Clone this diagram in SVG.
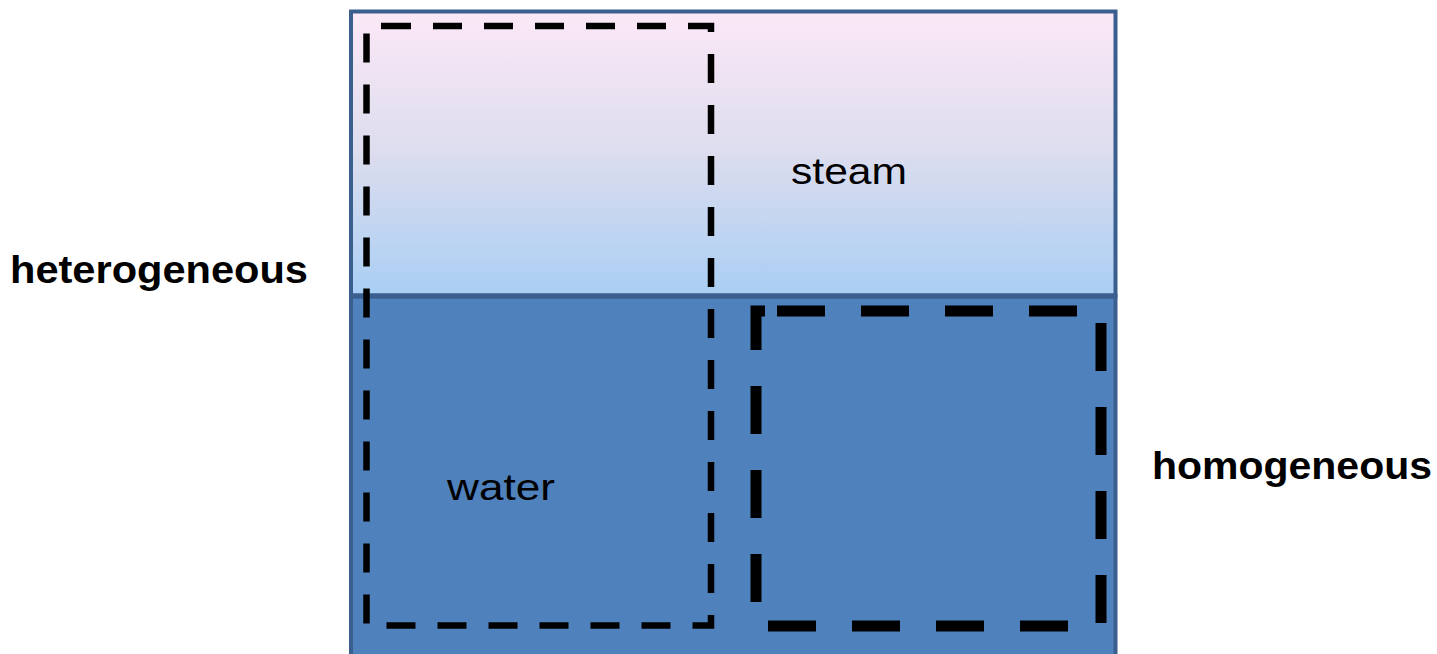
<svg xmlns="http://www.w3.org/2000/svg" width="1437" height="654" viewBox="0 0 1437 654">
<defs>
<linearGradient id="steamGrad" x1="0" y1="0" x2="0" y2="1">
<stop offset="0" stop-color="#FCE8F7"/>
<stop offset="0.5" stop-color="#DCDDEE"/>
<stop offset="1" stop-color="#A9CEF4"/>
</linearGradient>
</defs>
<style>
.box{stroke:#3A5F8E;stroke-width:4}
.lbl{font-family:"Liberation Sans",Arial,sans-serif;fill:#000}
.bold{font-weight:bold}
.dash1{fill:none;stroke:#000;stroke-width:6.5;stroke-dasharray:29 22}
.dash2{fill:none;stroke:#000;stroke-width:11;stroke-dasharray:48 36}
</style>
<g id="steam">
<rect x="351" y="11.5" width="764.5" height="284.5" fill="url(#steamGrad)" class="box"/>
<text class="lbl" x="791" y="184" font-size="37" textLength="116" lengthAdjust="spacingAndGlyphs">steam</text>
</g>
<g id="water">
<rect x="351" y="296" width="764.5" height="362" fill="#4F81BD" class="box"/>
<line x1="351" y1="296" x2="1115.5" y2="296" stroke="#3A5F8E" stroke-width="5.5"/>
<text class="lbl" x="447" y="500" font-size="37" textLength="108" lengthAdjust="spacingAndGlyphs">water</text>
</g>
<g id="heterogeneous-region">
<path class="dash1" d="M382 26 H711 V625.5 H366.5 V26 Z"/>
</g>
<g id="homogeneous-region">
<path class="dash2" d="M777 311 H1101 V626 H756 V311 Z"/>
</g>
<g id="labels">
<text class="lbl bold" x="10" y="283" font-size="39" textLength="298" lengthAdjust="spacingAndGlyphs">heterogeneous</text>
<text class="lbl bold" x="1152" y="479" font-size="39" textLength="280" lengthAdjust="spacingAndGlyphs">homogeneous</text>
</g>
<g id="connectors"></g>
</svg>
